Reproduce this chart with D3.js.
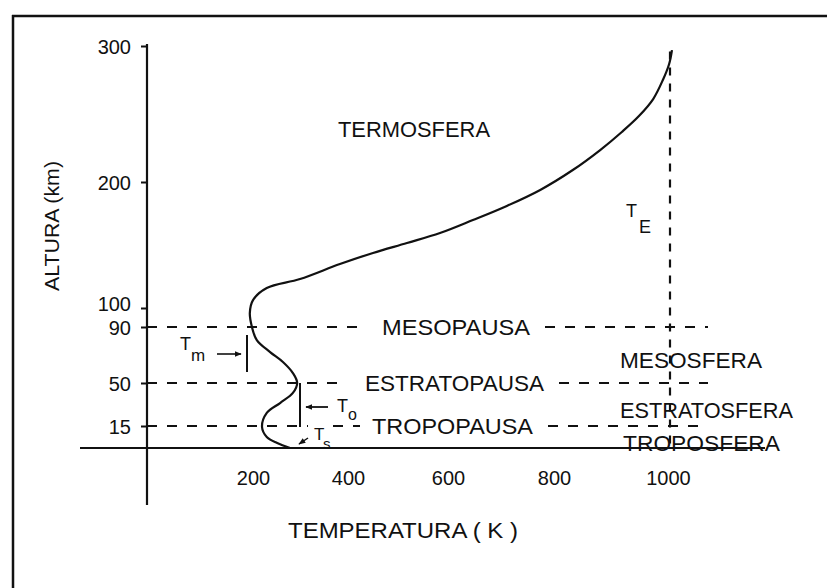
<!DOCTYPE html>
<html><head><meta charset="utf-8">
<script src="https://cdn.jsdelivr.net/npm/d3@7"></script>
<style>
body{margin:0;background:#fff}
svg{display:block}
text{font-family:"Liberation Sans",Arial,sans-serif;fill:#111}
</style>
</head><body>
<svg id="c" width="827" height="588"></svg>
<script>
// ---- data (temperature K, altitude km) ----
const temps   = [278,251,229,219,229,257,284,293,284,263,236,208,198,194,200,229,299,383,450,518,584,647,711,774,833,881,919,949,974,991,1002,1007];
const heights = [0,3.4,7.5,14.3,25.6,33.7,41.9,50,57.1,65,72.1,80.7,90,97.4,106.3,115.9,123,134.9,143.7,151.6,159.5,169.8,181,193.7,208.8,223.5,236.8,248.5,261,275,286.8,297];
const yTicks = [15,50,90,100,200,300];
const xTicks = [200,400,600,800,1000];
const pauseHeights = [90,50,15];
const pauseNames = ["MESOPAUSA","ESTRATOPAUSA","TROPOPAUSA"];
const sphereNames = ["TERMOSFERA","MESOSFERA","ESTRATOSFERA","TROPOSFERA"];
const exoTemp = 1000;
const xTitle = "TEMPERATURA ( K )";
const yTitle = "ALTURA (km)";

// ---- scales (piecewise, as in the hand-drawn original) ----
const x = d3.scaleLinear().domain([0,200,400,600,800,1000]).range([147,253,348,448,554,668]);
const y = d3.scaleLinear().domain([0,15,50,90,100,200,300]).range([448,426,383,327,308,182,46]);

const svg = d3.select("#c");
const ink = "#111";

// marker
const defs = svg.append("defs");
defs.append("marker").attr("id","ah").attr("viewBox","0 0 10 10").attr("refX",9).attr("refY",5)
  .attr("markerWidth",7).attr("markerHeight",7).attr("orient","auto-start-reverse").attr("markerUnits","userSpaceOnUse")
  .append("path").attr("d","M0,1 L10,5 L0,9 Z").attr("fill",ink);

// frame (top + left border of scanned page)
svg.append("line").attr("x1",12).attr("x2",827).attr("y1",16).attr("y2",16).attr("stroke",ink).attr("stroke-width",2.5);
svg.append("line").attr("x1",13).attr("x2",13).attr("y1",15).attr("y2",588).attr("stroke",ink).attr("stroke-width",2.5);

// axes lines
svg.append("line").attr("x1",x(0)).attr("x2",x(0)).attr("y1",y(300)-2).attr("y2",505).attr("stroke",ink).attr("stroke-width",2.2);
svg.append("line").attr("x1",80).attr("x2",765).attr("y1",y(0)).attr("y2",y(0)).attr("stroke",ink).attr("stroke-width",2.2);

// y axis ticks/labels
const ya = svg.append("g").attr("transform",`translate(${x(0)},0)`)
  .call(d3.axisLeft(y).tickValues(yTicks).tickSize(6).tickPadding(10).tickSizeOuter(0).tickFormat(d3.format("d")));
ya.select(".domain").remove();
ya.selectAll(".tick line").attr("stroke",ink).attr("stroke-width",2);
ya.selectAll(".tick text").attr("font-family","DejaVu Sans, sans-serif").attr("font-size",20).attr("fill",ink)
  .attr("dy", d => d===100 ? "0.1em" : "0.36em");

// x axis labels
const xa = svg.append("g").attr("transform",`translate(0,${y(0)})`)
  .call(d3.axisBottom(x).tickValues(xTicks).tickSize(0).tickPadding(23).tickFormat(d3.format("d")));
xa.select(".domain").remove();
xa.selectAll(".tick text").attr("font-family","DejaVu Sans, sans-serif").attr("font-size",20).attr("fill",ink);

// titles
svg.append("text").attr("x",288).attr("y",538).attr("font-size",22).attr("textLength",230).attr("lengthAdjust","spacingAndGlyphs").text(xTitle);
svg.append("text").attr("transform","translate(59,226) rotate(-90)").attr("text-anchor","middle")
  .attr("font-size",21).attr("textLength",130).attr("lengthAdjust","spacingAndGlyphs").text(yTitle);

// pause labels and dashed lines
const pauseStart = [382,365,372];
const pauseWidth = [148,179,161];
pauseHeights.forEach((h,i)=>{
  const yy = y(h);
  svg.append("text").attr("x",pauseStart[i]).attr("y",yy+8).attr("font-size",22)
    .attr("textLength",pauseWidth[i]).attr("lengthAdjust","spacingAndGlyphs").text(pauseNames[i]);
  const segs = i===2 ? [[x(0),308],[333,pauseStart[i]-12],[pauseStart[i]+pauseWidth[i]+15,708]]
                     : [[x(0),pauseStart[i]-18],[pauseStart[i]+pauseWidth[i]+15,708]];
  segs.forEach(s=>{
    svg.append("line").attr("x1",s[0]).attr("x2",s[1]).attr("y1",yy).attr("y2",yy)
      .attr("stroke",ink).attr("stroke-width",2).attr("stroke-dasharray","10,10");
  });
  svg.append("line").attr("x1",x(0)).attr("x2",x(0)+6).attr("y1",yy).attr("y2",yy).attr("stroke",ink).attr("stroke-width",2);
});

// exospheric temperature dashed vertical
svg.append("line").attr("x1",x(exoTemp)+2).attr("x2",x(exoTemp)+2).attr("y1",y(296)).attr("y2",y(0))
  .attr("stroke",ink).attr("stroke-width",2.2).attr("stroke-dasharray","8,8");

// sphere names
const sphX = [338,620,620,623];
const sphY = [137,368,418,451];
const sphW = [152,142,173,157];
sphereNames.forEach((n,i)=>{
  svg.append("text").attr("x",sphX[i]).attr("y",sphY[i]).attr("font-size",22)
    .attr("textLength",sphW[i]).attr("lengthAdjust","spacingAndGlyphs").text(n);
});

// temperature profile
const pts = temps.map((t,i)=>[x(t), y(heights[i])]);
svg.append("path").attr("d", d3.line().curve(d3.curveCatmullRom.alpha(0.5))(pts))
  .attr("fill","none").attr("stroke",ink).attr("stroke-width",2.2);

// T_E
svg.append("text").attr("x",626).attr("y",217).attr("font-size",18).text("T");
svg.append("text").attr("x",639).attr("y",233).attr("font-size",18).text("E");

// T_m annotation
svg.append("line").attr("x1",247).attr("x2",247).attr("y1",335).attr("y2",372).attr("stroke",ink).attr("stroke-width",2);
svg.append("line").attr("x1",217).attr("x2",241).attr("y1",354).attr("y2",354).attr("stroke",ink).attr("stroke-width",1.6).attr("marker-end","url(#ah)");
svg.append("text").attr("x",180).attr("y",350).attr("font-size",18).text("T");
svg.append("text").attr("x",191).attr("y",361).attr("font-size",17).text("m");

// T_o annotation
svg.append("line").attr("x1",300).attr("x2",300).attr("y1",y(50)).attr("y2",y(15)+1).attr("stroke",ink).attr("stroke-width",2);
svg.append("line").attr("x1",328).attr("x2",306).attr("y1",407).attr("y2",407).attr("stroke",ink).attr("stroke-width",1.8).attr("marker-end","url(#ah)");
svg.append("text").attr("x",337).attr("y",412).attr("font-size",18).text("T");
svg.append("text").attr("x",348).attr("y",420).attr("font-size",16).text("o");

// T_s annotation
svg.append("line").attr("x1",308).attr("x2",299).attr("y1",438).attr("y2",444).attr("stroke",ink).attr("stroke-width",1.5).attr("marker-end","url(#ah)");
svg.append("text").attr("x",314).attr("y",440).attr("font-size",17).text("T");
svg.append("text").attr("x",323).attr("y",449).attr("font-size",15).text("s");
</script>
</body></html>
